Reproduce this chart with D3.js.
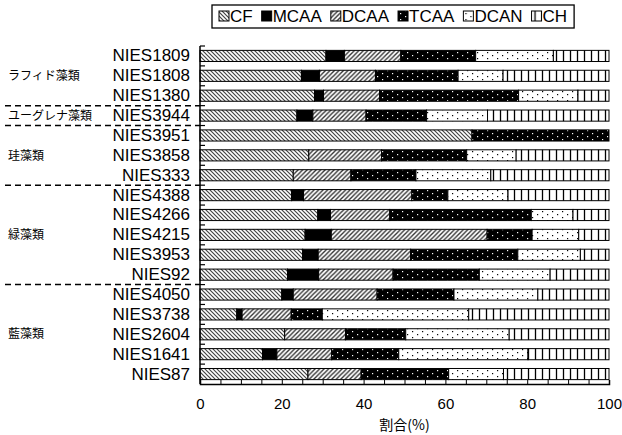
<!DOCTYPE html>
<html>
<head>
<meta charset="utf-8">
<script src="https://cdn.jsdelivr.net/npm/d3@7"></script>
<style>
  body { margin: 0; background: #fff; }
  svg { display: block; }
  text { font-family: "Liberation Sans", Arial, sans-serif; fill: #000; }
  .jp { font-family: "Noto Sans CJK JP", sans-serif; }
</style>
</head>
<body>
<svg id="chart" width="622" height="435"></svg>
<script>
const categories = ['NIES1809', 'NIES1808', 'NIES1380', 'NIES3944', 'NIES3951', 'NIES3858', 'NIES333',
  'NIES4388', 'NIES4266', 'NIES4215', 'NIES3953', 'NIES92',
  'NIES4050', 'NIES3738', 'NIES2604', 'NIES1641', 'NIES87']
const seriesNames = ['CF', 'MCAA', 'DCAA', 'TCAA', 'DCAN', 'CH']

const CF   = [30.8, 24.8, 28.0, 23.7, 66.5, 26.6, 22.8, 22.4, 28.8, 25.7, 25.1, 21.4, 20.0, 9.0, 20.7, 15.3, 26.4]
const MCAA = [4.5, 4.4, 2.2, 3.9, 0, 0, 0, 2.9, 3.1, 6.4, 3.8, 7.6, 2.8, 1.3, 0, 3.5, 0]
const DCAA = [13.8, 13.7, 13.7, 13.0, 0, 17.8, 14.1, 26.5, 14.5, 38.1, 22.6, 18.2, 20.5, 12.0, 14.9, 13.4, 13.0]
const TCAA = [18.3, 20.2, 34.0, 14.8, 33.5, 20.8, 15.9, 8.8, 34.6, 11.0, 26.2, 21.1, 18.8, 7.6, 14.7, 16.4, 21.4]
const DCAN = [19.0, 11.0, 14.5, 14.9, 0, 12.1, 18.3, 14.7, 10.2, 11.4, 15.3, 17.3, 20.5, 35.8, 25.3, 31.6, 13.4]
const CH   = [13.6, 25.9, 7.6, 29.7, 0, 22.7, 28.9, 24.7, 8.8, 7.4, 7.0, 14.4, 17.4, 34.3, 24.4, 19.8, 25.8]

const groupNames = ['ラフィド藻類', 'ユーグレナ藻類', '珪藻類', '緑藻類', '藍藻類']
const groupSizes = [3, 1, 3, 5, 5]

const xTicks = [0, 20, 40, 60, 80, 100]

const seriesValues = [CF, MCAA, DCAA, TCAA, DCAN, CH]
const table = categories.map((c, i) => {
  const row = { name: c }
  seriesNames.forEach((s, j) => { row[s] = seriesValues[j][i] })
  return row
})

const $svg = d3.select('#chart')
const MARGIN = { top: 46, right: 13, bottom: 51, left: 200 }
const width = 622, height = 435

const xScale = d3.scaleLinear().domain([0, 100]).range([MARGIN.left, width - MARGIN.right])
const yScale = d3.scaleBand().domain(categories)
  .range([MARGIN.top, height - MARGIN.bottom])
  .paddingInner(0.44).paddingOuter(0.22)

// fill patterns
const defs = $svg.append('defs')
function pat(id, w, h) {
  return defs.append('pattern').attr('id', id)
    .attr('patternUnits', 'userSpaceOnUse').attr('width', w).attr('height', h)
}
let p = pat('p-CF', 4, 4)
p.append('rect').attr('width', 4).attr('height', 4).attr('fill', '#fff')
p.append('path').attr('d', 'M-1,-1L5,5M3,-1L5,1M-1,3L1,5').attr('stroke', '#444').attr('stroke-width', 1.2)
p = pat('p-DCAA', 4.5, 4.5)
p.append('rect').attr('width', 4.5).attr('height', 4.5).attr('fill', '#fff')
p.append('path').attr('d', 'M-1,5.5L5.5,-1M-1,1L1,-1M3.5,5.5L5.5,3.5').attr('stroke', '#333').attr('stroke-width', 1.4)
p = pat('p-TCAA', 10, 6)
p.append('rect').attr('width', 10).attr('height', 6).attr('fill', '#000')
p.append('rect').attr('x', 2).attr('y', 1).attr('width', 1.2).attr('height', 1.2).attr('fill', '#fff')
p.append('rect').attr('x', 7).attr('y', 4).attr('width', 1.2).attr('height', 1.2).attr('fill', '#fff')
p = pat('p-DCAN', 10, 6)
p.append('rect').attr('width', 10).attr('height', 6).attr('fill', '#fff')
p.append('rect').attr('x', 2).attr('y', 1).attr('width', 1.2).attr('height', 1.2).attr('fill', '#000')
p.append('rect').attr('x', 7).attr('y', 4).attr('width', 1.2).attr('height', 1.2).attr('fill', '#000')
p = pat('p-CH', 7, 7)
p.append('rect').attr('width', 7).attr('height', 7).attr('fill', '#fff')
p.append('path').attr('d', 'M3.5,0V7').attr('stroke', '#000').attr('stroke-width', 1.3)

const fillOf = s => s === 'MCAA' ? '#000' : `url(#p-${s})`

// bars
const stacked = d3.stack().keys(seriesNames)(table)
const $layers = $svg.append('g').selectAll('g')
  .data(stacked)
  .enter()
  .append('g')
    .attr('fill', d => fillOf(d.key))
$layers.selectAll('rect')
  .data(d => d.filter(v => v[1] - v[0] > 0))
  .enter()
  .append('rect')
    .attr('x', d => xScale(d[0]))
    .attr('y', d => yScale(d.data.name))
    .attr('width', d => xScale(d[1]) - xScale(d[0]))
    .attr('height', yScale.bandwidth())
    .attr('stroke', '#000')
    .attr('stroke-width', 1)

// x axis
const xAxis = d3.axisBottom(xScale)
  .tickValues(d3.range(0, 101, 5))
  .tickSize(-4)
  .tickPadding(14)
  .tickFormat(d => xTicks.includes(d) ? d : '')
const $gx = $svg.append('g')
  .attr('transform', `translate(0, ${height - MARGIN.bottom})`)
  .call(xAxis)
$gx.select('.domain').attr('stroke', '#000').attr('stroke-width', 1.5)
$gx.selectAll('.tick line').attr('stroke', '#000')
$gx.selectAll('text').attr('font-size', 15).attr('font-family', '"Liberation Sans", Arial, sans-serif')

// y axis
const yAxis = d3.axisLeft(yScale).tickSize(0).tickPadding(10)
const $gy = $svg.append('g')
  .attr('transform', `translate(${MARGIN.left}, 0)`)
  .call(yAxis)
$gy.select('.domain').attr('stroke', '#000').attr('stroke-width', 1.5)
  .attr('d', `M0,${MARGIN.top}V${height - MARGIN.bottom}`)
$gy.selectAll('text').attr('font-size', 17).attr('font-family', '"Liberation Sans", Arial, sans-serif')

// boundary ticks on the y axis
const step = yScale.step()
$svg.append('g').selectAll('line')
  .data(d3.range(categories.length))
  .enter()
  .append('line')
    .attr('x1', MARGIN.left).attr('x2', MARGIN.left + 5)
    .attr('y1', i => MARGIN.top + i * step).attr('y2', i => MARGIN.top + i * step)
    .attr('stroke', '#000').attr('stroke-width', 1.2)

// groups
let acc = 0
const groups = groupNames.map((g, i) => {
  const start = acc
  acc += groupSizes[i]
  return { name: g, start, end: acc }
})
const $gGroups = $svg.append('g')
$gGroups.selectAll('line')
  .data(groups.slice(0, -1))
  .enter()
  .append('line')
    .attr('x1', 5).attr('x2', MARGIN.left)
    .attr('y1', d => MARGIN.top + d.end * step).attr('y2', d => MARGIN.top + d.end * step)
    .attr('stroke', '#000').attr('stroke-width', 1.5)
    .attr('stroke-dasharray', '6,4')
$gGroups.selectAll('text')
  .data(groups)
  .enter()
  .append('text')
    .attr('class', 'jp')
    .attr('x', 8)
    .attr('y', d => MARGIN.top + (d.start + d.end) / 2 * step)
    .attr('dy', '0.35em')
    .attr('font-size', 12)
    .text(d => d.name)

// axis title
$svg.append('text')
  .attr('class', 'jp')
  .attr('x', (xScale(0) + xScale(100)) / 2)
  .attr('y', 430)
  .attr('text-anchor', 'middle')
  .attr('font-size', 14)
  .text('割合(%)')

// legend
const $legend = $svg.append('g')
let lx = 219
seriesNames.forEach(s => {
  const g = $legend.append('g').attr('transform', `translate(${lx}, 0)`)
  g.append('rect').attr('x', 0).attr('y', 11).attr('width', 10).attr('height', 10)
    .attr('fill', fillOf(s)).attr('stroke', '#000').attr('stroke-width', 1)
  const t = g.append('text').attr('x', 11).attr('y', 22).attr('font-size', 17).text(s)
  lx += 11 + t.node().getComputedTextLength() + 9
})
$legend.insert('rect', ':first-child')
  .attr('x', 212).attr('y', 5).attr('width', lx - 212 - 2).attr('height', 23)
  .attr('fill', '#fff').attr('stroke', '#000').attr('stroke-width', 1.3)
</script>
</body>
</html>
